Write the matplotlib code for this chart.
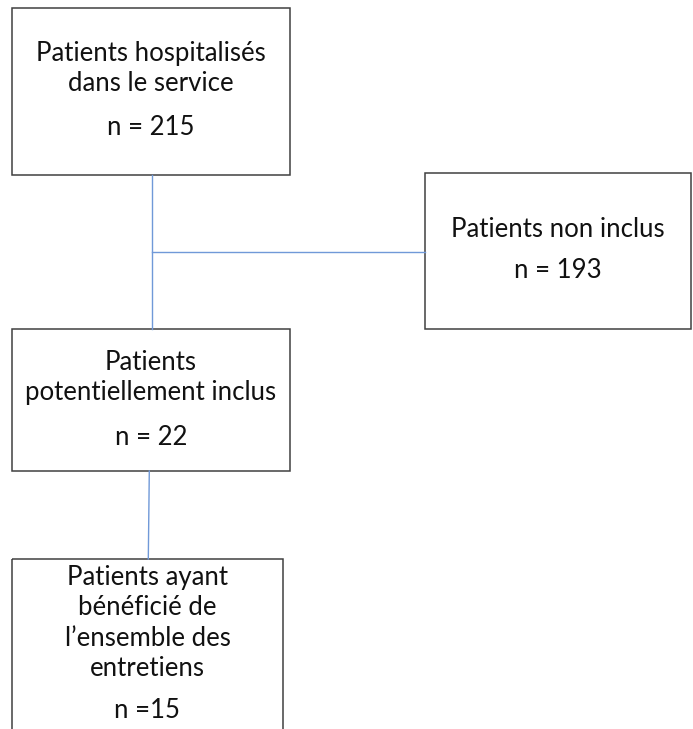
import matplotlib
matplotlib.use('Agg')
import matplotlib.pyplot as plt
from matplotlib.patches import Rectangle

# flowchart content
titles = ['Patients hospitalisés\ndans le service',
          'Patients non inclus',
          'Patients\npotentiellement inclus',
          'Patients ayant\nbénéficié de\nl\u2019ensemble des\nentretiens']
counts = ['n = 215', 'n = 193', 'n = 22', 'n =15']

# layout (pixels, y down): x0, y0, x1, y1
boxes = [(12, 8, 290, 175), (425, 173, 691, 329), (12, 329, 290, 471), (12, 559, 283, 760)]
title_y = [53, 229, 362, 577]
count_y = [127, 270, 437, 710]
line_gap = 30.5

fig = plt.figure(figsize=(6.93, 7.29), dpi=100)
ax = fig.add_axes([0, 0, 1, 1])
ax.set_xlim(0, 693)
ax.set_ylim(729, 0)
ax.axis('off')

font = 'Lato'
fs = 18.5
edge = '#404040'
link = '#7099d8'

# connectors
ax.plot([152, 152], [175, 329], color=link, lw=1)
ax.plot([152, 425], [252, 252], color=link, lw=1)
ax.plot([149.3, 148.3], [471, 559], color=link, lw=1)

for i, (x0, y0, x1, y1) in enumerate(boxes):
    ax.add_patch(Rectangle((x0, y0), x1 - x0, y1 - y0, fill=False,
                           edgecolor=edge, lw=1.1))
    cx = (x0 + x1) / 2
    for j, line in enumerate(titles[i].split('\n')):
        ax.text(cx, title_y[i] + j * line_gap, line, ha='center', va='center',
                fontsize=fs, family=font, color='#111111')
    ax.text(cx, count_y[i], counts[i], ha='center', va='center',
            fontsize=fs, family=font, color='#111111')

fig.savefig('out.png', dpi=100)
